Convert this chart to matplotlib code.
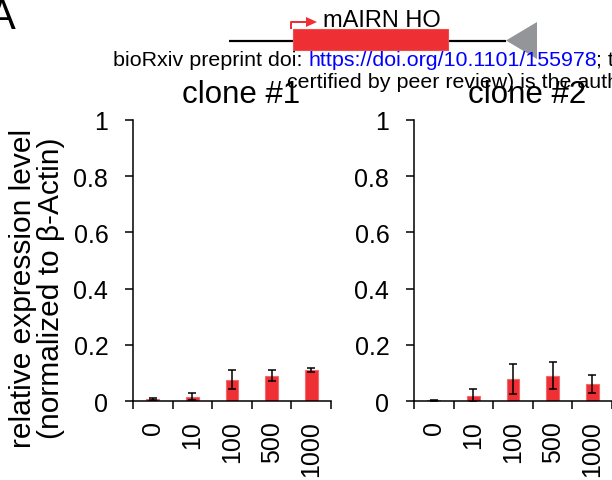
import matplotlib
matplotlib.use("Agg")
import matplotlib.pyplot as plt
from matplotlib.patches import Rectangle, Polygon
import numpy as np

plt.rcParams['font.family'] = ['Liberation Sans', 'DejaVu Sans']

# ---- data ----
concentrations = ["0", "10", "100", "500", "1000"]
clone1_mean = [0.006, 0.015, 0.076, 0.090, 0.110]
clone1_err = [0.004, 0.012, 0.035, 0.019, 0.006]
clone2_mean = [0.003, 0.019, 0.077, 0.090, 0.061]
clone2_err = [0.002, 0.022, 0.053, 0.048, 0.031]
panel_titles = ["clone #1", "clone #2"]
yticks = [0, 0.2, 0.4, 0.6, 0.8, 1.0]
ytick_labels = ["0", "0.2", "0.4", "0.6", "0.8", "1"]

W, H = 612, 481
DPI = 100
fig = plt.figure(figsize=(W / DPI, H / DPI), dpi=DPI)

RED = "#EE3035"
PX = 72.0 / DPI  # points per pixel

# overlay axes in pixel coordinates for annotation
ov = fig.add_axes([0, 0, 1, 1])
ov.set_xlim(0, W)
ov.set_ylim(H, 0)
ov.axis("off")


def panel(x0px, means, errs, title, title_x):
    ax = fig.add_axes([x0px / W, 1 - 402 / H, 198 / W, (402 - 121) / H])
    x = np.arange(len(concentrations)) + 0.5
    ax.bar(x, means, width=0.32, color=RED, edgecolor="#F26A6D", linewidth=0.8,
           yerr=errs, error_kw=dict(ecolor="black", elinewidth=1.1, capsize=2.6, capthick=1.1),
           zorder=2)
    ax.set_xlim(0, len(concentrations))
    ax.set_ylim(0, 1)
    for s in ["top", "right"]:
        ax.spines[s].set_visible(False)
    for s in ["left", "bottom"]:
        ax.spines[s].set_linewidth(1.1)
    ax.set_xticks(x)
    ax.set_xticklabels(concentrations, rotation=90, fontsize=18)
    ax.set_xticks(np.arange(len(concentrations) + 1), minor=True)
    ax.tick_params(axis="x", which="major", length=0, pad=14)
    ax.tick_params(axis="x", which="minor", length=8 * PX, width=1.1, direction="out")
    ax.set_yticks(yticks)
    ax.set_yticklabels(ytick_labels, fontsize=18)
    ax.tick_params(axis="y", length=8 * PX, width=1.1, pad=12)
    ax.patch.set_alpha(0)
    ov.text(title_x, 103, title, fontsize=22.5, ha="center", va="baseline")
    return ax


panel(133, clone1_mean, clone1_err, panel_titles[0], 241)
panel(414, clone2_mean, clone2_err, panel_titles[1], 527)

# y label
ov.text(37, 288, "relative expression level\n(normalized to \u03b2-Actin)", rotation=90,
        fontsize=21.5, ha="center", va="center", linespacing=1.0, multialignment="center")

# panel letter
ov.text(16, 29, "A", fontsize=30, ha="right", va="baseline")

# gene diagram
ov.plot([229, 506], [41.5, 41.5], color="black", lw=2.2 * PX, solid_capstyle="butt")
ov.add_patch(Rectangle((293, 30), 448 - 293, 21, facecolor=RED, edgecolor="#F04A4D", lw=0.8, zorder=3))
ov.plot([291, 291, 308], [30, 23, 23], color=RED, lw=2 * PX, solid_capstyle="butt", zorder=3)
ov.add_patch(Polygon([[306, 18], [317, 23], [306, 28]], closed=True, facecolor=RED, edgecolor="none", zorder=3))
ov.add_patch(Polygon([[506, 41.5], [537, 23], [537, 60]], closed=True, facecolor="#939598", edgecolor="none", zorder=3))
ov.text(323, 27, "mAIRN HO", fontsize=17, ha="left", va="baseline")

# bioRxiv watermark
ov.text(113, 66, "bioRxiv preprint doi:", fontsize=15.4, ha="left", va="baseline", color="black")
ov.text(308, 66, "https://doi.org/10.1101/155978", fontsize=15.4, ha="left", va="baseline", color="blue")
ov.text(596, 66, "; this version posted", fontsize=15.4, ha="left", va="baseline", color="black")
ov.text(287, 88, "certified by peer review) is the author/funder", fontsize=15.4, ha="left", va="baseline",
        color="black")

fig.savefig("out.png", dpi=DPI)
